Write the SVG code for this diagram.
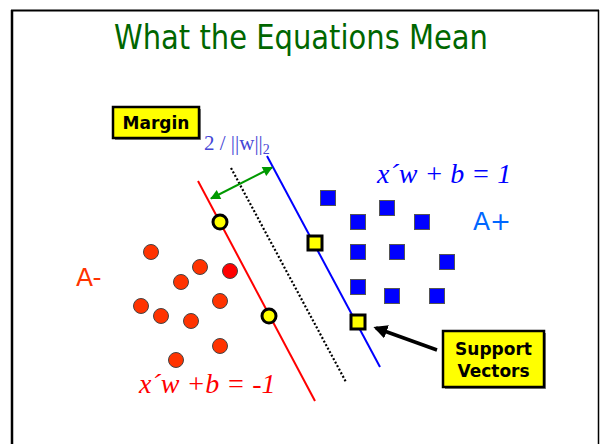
<svg xmlns="http://www.w3.org/2000/svg" width="600" height="444" viewBox="0 0 600 444">
<defs>
<style>
.title{font-family:"DejaVu Sans",Tahoma,sans-serif;font-size:34px;fill:#006600}
.lbl{font-family:"DejaVu Sans",Tahoma,sans-serif;font-weight:bold;font-size:17px;fill:#000}
.eq{font-family:"Liberation Serif","Times New Roman",serif;font-style:italic;font-size:28px}
.cls{font-family:"DejaVu Sans",Tahoma,sans-serif;font-size:25px}
.ybox{fill:#ffff00;stroke:#000;stroke-width:2.5}
.shadow{fill:#888}
.neg{fill:#ff3300;stroke:#444;stroke-width:1}
.pos{fill:#0000ff;stroke:#555;stroke-width:1}
.sv{fill:#ffff00;stroke:#000;stroke-width:3}
</style>
<marker id="ga" viewBox="0 0 10 10" refX="9" refY="5" markerWidth="6" markerHeight="5" orient="auto-start-reverse" markerUnits="strokeWidth">
<path d="M0,0 L10,5 L0,10 z" fill="#009900"/>
</marker>
<marker id="ba" viewBox="0 0 10 10" refX="8" refY="5" markerWidth="4" markerHeight="4" orient="auto" markerUnits="strokeWidth">
<path d="M0,0 L10,5 L0,10 z" fill="#000"/>
</marker>
</defs>
<rect width="600" height="444" fill="#fff"/>
<g id="frame" fill="none" stroke="#000">
<line x1="12" y1="10" x2="12" y2="444" stroke-width="2.5"/>
<line x1="11" y1="10.5" x2="599" y2="10.5" stroke-width="2"/>
<line x1="598.5" y1="10" x2="598.5" y2="444" stroke-width="1.5"/>
</g>
<text class="title" x="301" y="49" text-anchor="middle" textLength="374" lengthAdjust="spacingAndGlyphs">What the Equations Mean</text>
<g id="connectors">
<line id="plane-neg" x1="198" y1="181" x2="315" y2="401" stroke="#ff0000" stroke-width="2"/>
<line id="plane-pos" x1="267" y1="156" x2="380" y2="367" stroke="#0000ff" stroke-width="2"/>
<line id="plane-mid" x1="231" y1="168" x2="346" y2="382" stroke="#000" stroke-width="2.2" stroke-dasharray="2,2"/>
<line id="margin-arrow" x1="211" y1="198.5" x2="272" y2="167.5" stroke="#009900" stroke-width="2" marker-start="url(#ga)" marker-end="url(#ga)"/>
<line id="sv-arrow" x1="437" y1="350" x2="376" y2="328" stroke="#000" stroke-width="3.5" marker-end="url(#ba)"/>
</g>
<g id="margin-label">
<rect class="shadow" x="115" y="109" width="86" height="31"/>
<rect class="ybox" x="113" y="107" width="86" height="31"/>
<text class="lbl" x="156" y="128.5" text-anchor="middle">Margin</text>
</g>
<g id="margin-width">
<text x="204" y="150" font-family="'Liberation Serif','Times New Roman',serif" font-size="21" fill="#4545d5">2 / ||w||<tspan font-size="14" dy="4">2</tspan></text>
</g>
<g id="class-neg">
<circle class="neg" cx="151" cy="252" r="7.5"/>
<circle class="neg" cx="200" cy="267" r="7.5"/>
<circle class="neg" cx="230" cy="271" r="7.5" style="fill:#ff0000"/>
<circle class="neg" cx="181" cy="282" r="7.5"/>
<circle class="neg" cx="220" cy="301" r="7.5"/>
<circle class="neg" cx="141" cy="306" r="7.5"/>
<circle class="neg" cx="161" cy="316" r="7.5"/>
<circle class="neg" cx="191" cy="321" r="7.5"/>
<circle class="neg" cx="220" cy="346" r="7.5"/>
<circle class="neg" cx="176" cy="360" r="7.5"/>
<circle class="sv" cx="220" cy="222" r="7"/>
<circle class="sv" cx="269" cy="316" r="7"/>
<text class="cls" x="76" y="286" fill="#ff3300">A-</text>
<text class="eq" x="139" y="393" fill="#ff0000">x´w +b = -1</text>
</g>
<g id="class-pos">
<rect class="pos" x="320.5" y="190.5" width="15" height="15"/>
<rect class="pos" x="379.5" y="200.5" width="15" height="15"/>
<rect class="pos" x="350.5" y="214.5" width="15" height="15"/>
<rect class="pos" x="414.5" y="214.5" width="15" height="15"/>
<rect class="pos" x="350.5" y="244.5" width="15" height="15"/>
<rect class="pos" x="389.5" y="244.5" width="15" height="15"/>
<rect class="pos" x="439.5" y="254.5" width="15" height="15"/>
<rect class="pos" x="350.5" y="279.5" width="15" height="15"/>
<rect class="pos" x="384.5" y="288.5" width="15" height="15"/>
<rect class="pos" x="429.5" y="288.5" width="15" height="15"/>
<rect class="sv" x="308" y="236" width="14" height="14"/>
<rect class="sv" x="351" y="315" width="14" height="14"/>
<text class="cls" x="473" y="230" fill="#0066ff">A+</text>
<text class="eq" x="377" y="183" fill="#0000ff">x´w + b = 1</text>
</g>
<g id="sv-label">
<rect class="shadow" x="445" y="333" width="101" height="56"/>
<rect class="ybox" x="443" y="331" width="101" height="56"/>
<text class="lbl" x="493.5" y="355" text-anchor="middle">Support</text>
<text class="lbl" x="493.5" y="377" text-anchor="middle">Vectors</text>
</g>
</svg>
